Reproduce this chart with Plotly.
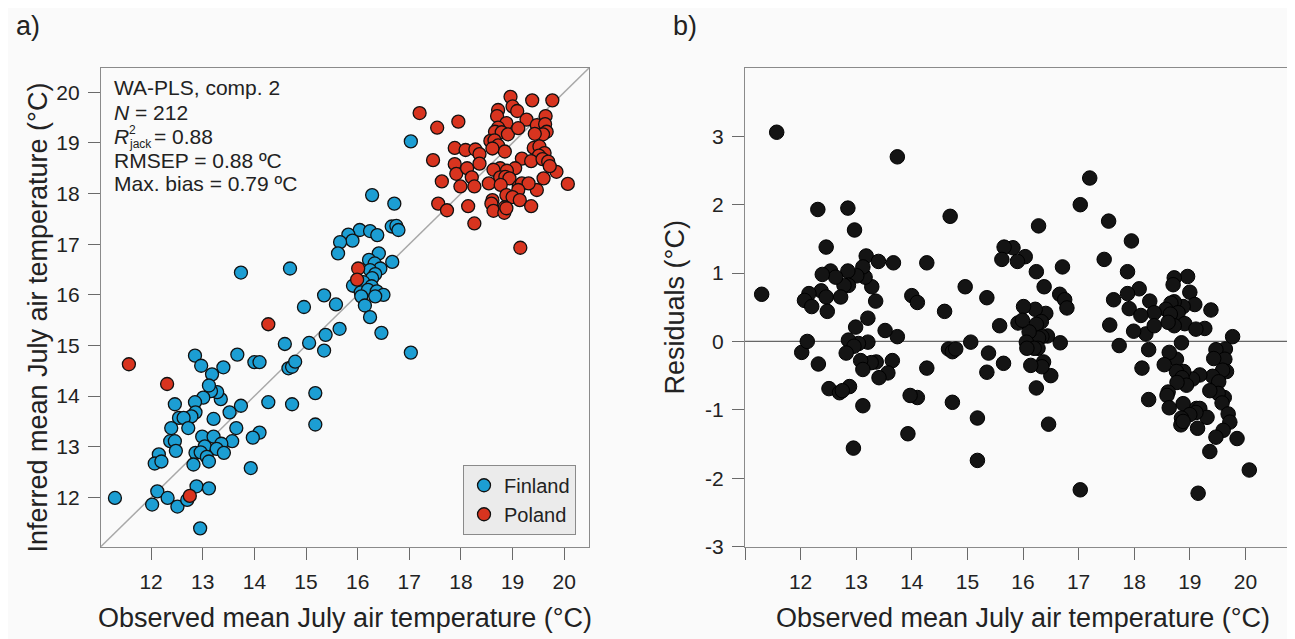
import plotly.graph_objects as go

# ---------------- data ----------------
finland_obs = [11.30, 12.02, 12.12, 12.32, 12.51, 12.70, 12.88, 13.12, 12.95, 12.85,
               12.97, 13.18, 13.40, 13.67, 14.00, 14.10, 14.59, 15.06, 15.38, 15.65,
               16.46, 17.03, 14.66, 14.73, 14.79, 15.35, 15.18, 15.18, 14.73, 14.27,
               13.74, 13.52, 13.65, 13.57, 14.10, 13.97, 13.93, 13.35, 13.28, 13.16,
               13.12, 13.01, 12.85, 12.86, 12.78, 12.46, 12.54, 12.63, 12.72, 12.39,
               12.37, 12.46, 12.48, 12.15, 12.07, 12.20, 13.21, 12.99, 13.21, 13.04,
               13.36, 13.27, 13.41, 12.86, 12.96, 13.08, 13.12, 12.82, 17.03, 16.28,
               16.71, 16.66, 16.75, 16.79, 16.04, 16.24, 16.38, 15.82, 15.90, 15.66,
               15.62, 16.41, 16.67, 16.22, 16.33, 16.44, 16.24, 16.34, 16.28, 15.91,
               16.11, 16.27, 16.06, 16.20, 16.07, 16.37, 16.50, 16.34, 16.14, 16.24,
               15.35, 15.58, 14.96, 13.74, 14.69]
finland_inf = [11.99, 11.86, 12.12, 11.99, 11.82, 11.95, 12.22, 12.18, 11.39, 14.80,
               14.60, 14.43, 14.57, 14.82, 14.67, 14.67, 15.03, 15.05, 15.21, 15.33,
               15.25, 14.86, 14.55, 14.58, 14.68, 14.90, 14.06, 13.44, 13.84, 13.88,
               13.81, 13.68, 13.37, 13.11, 13.28, 13.18, 12.58, 13.94, 14.08, 14.10,
               14.21, 13.97, 13.88, 13.68, 13.60, 13.84, 13.57, 13.57, 13.37, 13.37,
               13.11, 13.11, 12.92, 12.85, 12.67, 12.71, 13.55, 13.20, 13.20, 13.01,
               13.06, 12.96, 12.88, 12.88, 12.89, 12.80, 12.71, 12.65, 19.03, 17.97,
               17.80, 17.35, 17.36, 17.28, 17.28, 17.26, 17.18, 17.19, 17.07, 17.04,
               16.82, 16.82, 16.65, 16.69, 16.62, 16.52, 16.49, 16.41, 16.33, 16.18,
               16.25, 16.17, 16.05, 16.10, 15.97, 16.07, 16.00, 15.97, 15.79, 15.56,
               15.99, 15.81, 15.76, 16.44, 16.52]

poland_obs = [11.57, 12.31, 12.75, 16.01, 15.99, 14.27, 17.20, 17.54, 17.95, 17.46,
              17.63, 17.56, 17.73, 18.14, 18.26, 19.15, 20.07, 19.85, 19.77, 19.38,
              18.96, 18.72, 19.00, 19.09, 18.70, 19.64, 19.27, 19.47, 19.63, 19.66,
              19.59, 19.43, 18.88, 18.72, 18.66, 18.79, 18.91, 19.11, 18.57, 18.65,
              18.72, 18.85, 18.61, 19.41, 19.52, 19.62, 19.51, 17.88, 18.09, 18.28,
              18.36, 17.88, 17.91, 18.12, 18.21, 18.36, 17.99, 18.26, 19.18, 19.36,
              19.58, 19.69, 19.72, 18.76, 18.63, 19.05, 18.89, 18.76, 18.86, 18.94,
              18.54, 18.77, 19.60, 19.47, 19.12, 19.18, 19.31, 19.11, 18.88, 19.00,
              18.61, 19.14, 19.36, 18.59, 18.63, 18.85, 18.84, 18.88]
poland_inf = [14.63, 14.24, 12.03, 16.52, 16.30, 15.42, 19.59, 19.30, 19.42, 18.66,
              18.24, 17.80, 17.67, 17.75, 17.41, 16.93, 18.19, 18.43, 19.84, 19.84,
              19.91, 19.65, 19.72, 19.63, 19.53, 19.53, 19.46, 19.35, 19.37, 19.22,
              19.17, 19.18, 19.39, 19.30, 19.22, 19.21, 19.17, 19.29, 19.04, 19.05,
              18.95, 18.83, 18.89, 18.90, 18.93, 18.80, 18.75, 18.90, 18.86, 18.87,
              18.78, 18.58, 18.39, 18.50, 18.32, 18.59, 18.14, 18.14, 18.69, 18.64,
              18.68, 18.63, 18.54, 18.50, 18.47, 18.50, 18.45, 18.32, 18.33, 18.30,
              18.20, 18.17, 18.30, 18.07, 18.14, 18.20, 18.20, 18.07, 17.97, 17.93,
              17.87, 17.87, 17.75, 17.80, 17.66, 17.73, 17.62, 17.71]

temp_ticks = [12, 13, 14, 15, 16, 17, 18, 19, 20]
temp_labels = ["12", "13", "14", "15", "16", "17", "18", "19", "20"]
resid_x_minor_ticks = [11]
resid_ticks = [-3, -2, -1, 0, 1, 2, 3]
resid_labels = ["-3", "-2", "-1", "0", "1", "2", "3"]

# ---------------- derived ----------------
all_obs = finland_obs + poland_obs
all_inf = finland_inf + poland_inf
residuals = [i - o for o, i in zip(all_obs, all_inf)]   # inferred - observed

# ---------------- figure ----------------
W, H = 1295, 639
FONT = "Liberation Sans, Arial, Helvetica, sans-serif"
TXT = "#222222"
BG = "#fafafa"

def px(x):
    return x / W

def py(y):
    return 1 - y / H

fig = go.Figure()

fig.add_trace(go.Scatter(
    x=finland_obs, y=finland_inf, mode="markers", name="Finland",
    marker=dict(size=13, color="#1c9ed3", line=dict(color="#111111", width=1.3)),
    xaxis="x", yaxis="y"))
fig.add_trace(go.Scatter(
    x=poland_obs, y=poland_inf, mode="markers", name="Poland",
    marker=dict(size=13, color="#d8341f", line=dict(color="#111111", width=1.3)),
    xaxis="x", yaxis="y"))
fig.add_trace(go.Scatter(
    x=all_obs, y=residuals, mode="markers", showlegend=False,
    marker=dict(size=14.5, color="#141414", line=dict(color="#000000", width=1)),
    xaxis="x2", yaxis="y2"))

axis_common = dict(showline=True, mirror=True, linecolor="#8a8a8a", linewidth=1.3,
                   ticks="outside", ticklen=12, tickcolor="#6a6a6a", tickwidth=1,
                   showgrid=False, zeroline=False,
                   tickfont=dict(family=FONT, size=21, color=TXT))
title_font = dict(size=27, family=FONT, color=TXT)

rng = [11.03, 20.48]
fig.update_layout(
    width=W, height=H,
    margin=dict(l=0, r=0, t=0, b=0),
    paper_bgcolor=BG, plot_bgcolor=BG,
    font=dict(family=FONT, color=TXT),
    xaxis=dict(domain=[px(93), px(581)], range=rng, anchor="y",
               tickvals=temp_ticks, ticktext=temp_labels, ticklabelstandoff=4,
               title=dict(text="Observed mean July air temperature (°C)",
                          font=title_font, standoff=16),
               **axis_common),
    yaxis=dict(domain=[py(548), py(61)], range=rng, anchor="x",
               tickvals=temp_ticks, ticktext=temp_labels, ticklabelstandoff=4,
               **axis_common),
    xaxis2=dict(domain=[px(737), px(1293)], range=[11, 21], anchor="y2",
                tickvals=temp_ticks, ticktext=temp_labels, ticklabelstandoff=4,
                minor=dict(tickvals=resid_x_minor_ticks, ticks="outside", ticklen=12,
                           tickcolor="#6a6a6a", tickwidth=1, showgrid=False),
                title=dict(text="Observed mean July air temperature (°C)",
                           font=title_font, standoff=16),
                **axis_common),
    yaxis2=dict(domain=[py(548), py(61)], range=[-3, 4], anchor="x2",
                tickvals=resid_ticks, ticktext=resid_labels, ticklabelstandoff=4,
                title=dict(text="Residuals (°C)", font=title_font, standoff=12),
                **axis_common),
    legend=dict(x=px(568), y=py(536), xanchor="right", yanchor="bottom",
                bgcolor="#ebebeb", bordercolor="#8a8a8a", borderwidth=1,
                font=dict(family=FONT, size=20, color=TXT),
                itemwidth=30, tracegroupgap=0),
    showlegend=True,
    shapes=[
        dict(type="line", xref="x domain", yref="y domain", x0=0, y0=0, x1=1, y1=1,
             line=dict(color="#a8a8a8", width=1.5), layer="below"),
        dict(type="line", xref="x2 domain", yref="y2", x0=0, x1=1, y0=0, y1=0,
             line=dict(color="#666666", width=1.2), layer="below"),
    ],
)

def note(text, x, y, size, anchor="left", angle=0):
    return dict(text=text, x=px(x), y=py(y), xref="paper", yref="paper",
                xanchor=anchor, yanchor="middle", showarrow=False, textangle=angle,
                font=dict(family=FONT, size=size, color=TXT))

annotations = [
    note("a)", 6, 18, 27),
    note("b)", 663, 18, 27),
    note("Inferred mean July air temperature (°C)", 30, 315, 27, anchor="center", angle=-90),
    note("WA-PLS, comp. 2", 104, 81, 21),
    note("<i>N</i> = 212", 104, 106, 21),
    note("<i>R</i>", 104, 131, 21),
    note("2", 119, 124, 12),
    note("jack", 119, 138, 12),
    note("= 0.88", 144, 131, 21),
    note("RMSEP = 0.88 ºC", 104, 155, 21),
    note("Max. bias = 0.79 ºC", 104, 179, 21),
]
fig.update_layout(annotations=annotations)

fig.write_html("out.html")
